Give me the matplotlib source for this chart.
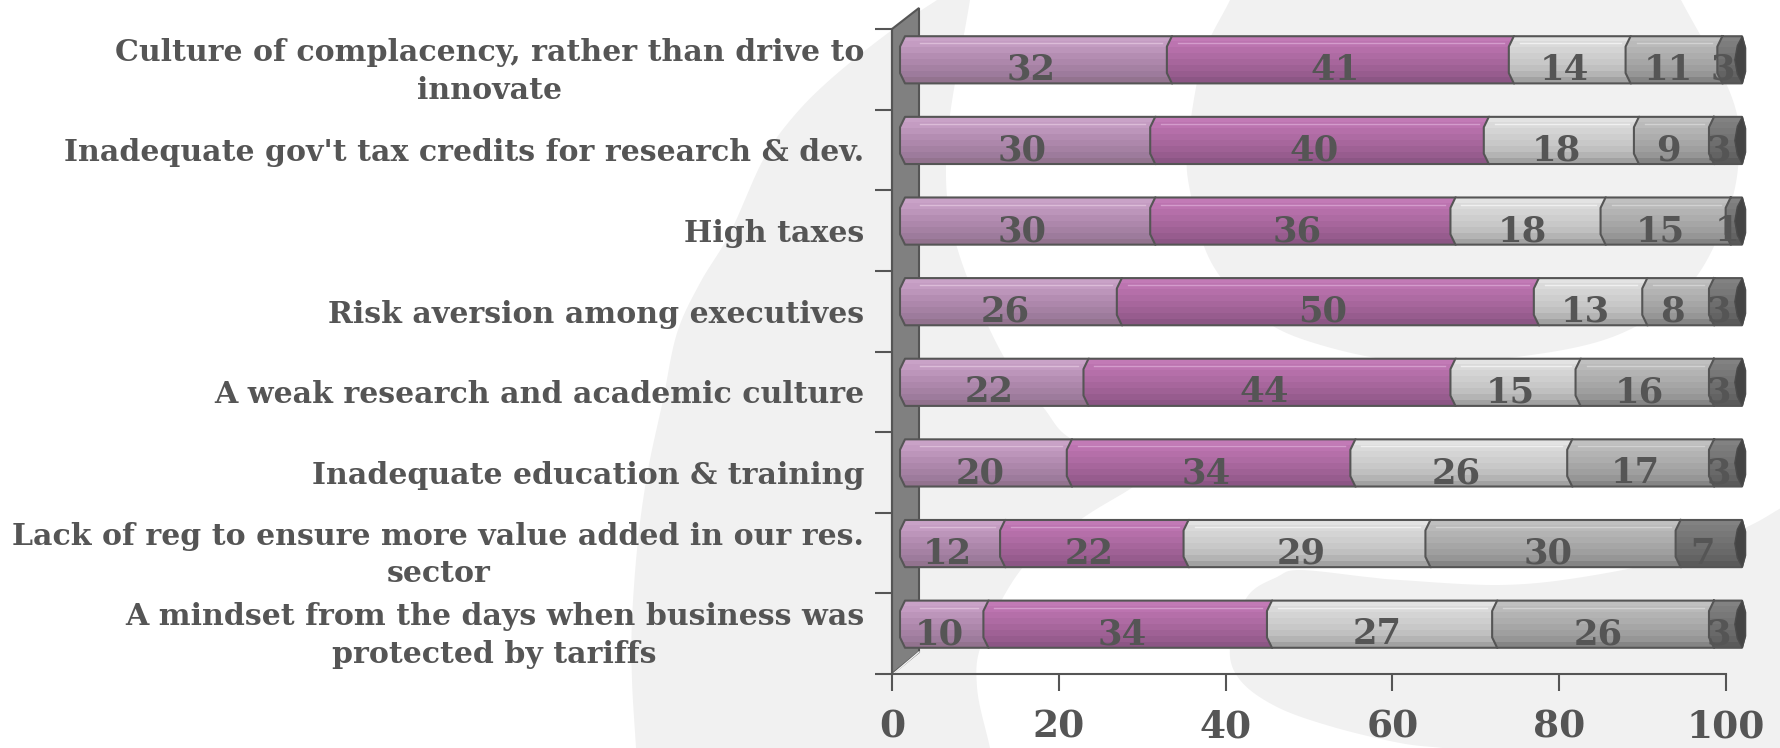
import numpy as np
import matplotlib
matplotlib.use("Agg")
import matplotlib.pyplot as plt
from matplotlib.patches import Polygon
from matplotlib.transforms import Affine2D

categories = ["Culture of complacency, rather than drive to\ninnovate",
              "Inadequate gov't tax credits for research & dev.",
              "High taxes",
              "Risk aversion among executives",
              "A weak research and academic culture",
              "Inadequate education & training",
              "Lack of reg to ensure more value added in our res.\nsector",
              "A mindset from the days when business was\nprotected by tariffs"]
series_1 = [32, 30, 30, 26, 22, 20, 12, 10]
series_2 = [41, 40, 36, 50, 44, 34, 22, 34]
series_3 = [14, 18, 18, 13, 15, 26, 29, 27]
series_4 = [11, 9, 15, 8, 16, 17, 30, 26]
series_5 = [3, 3, 1, 3, 3, 3, 7, 3]
x_ticks = [0, 20, 40, 60, 80, 100]

INK = "#555555"
W, H = 1781, 748
fig = plt.figure(figsize=(W / 100, H / 100), dpi=100, facecolor="white")
px = Affine2D().scale(1, -1).translate(0, H)


def smooth(points, n=14):
    p = np.array(points, float)
    q = np.vstack([2 * p[0] - p[1], p, 2 * p[-1] - p[-2]])
    out = []
    for i in range(1, len(q) - 2):
        for t in np.linspace(0, 1, n, endpoint=False):
            out.append(0.5 * (2 * q[i] + (q[i + 1] - q[i - 1]) * t
                              + (2 * q[i - 1] - 5 * q[i] + 4 * q[i + 1] - q[i + 2]) * t ** 2
                              + (3 * q[i] - q[i - 1] - 3 * q[i + 1] + q[i + 2]) * t ** 3))
    out.append(p[-1])
    return np.array(out)


band_left = [(937, 0), (892, 30), (833, 77), (793, 117), (763, 160), (730, 233), (700, 283), (677, 333), (663, 400),
             (648, 470), (638, 540), (632, 620), (632, 680), (636, 748)]
band_right = [(990, 748), (977, 687), (983, 640), (1023, 567), (1080, 520), (1133, 487), (1150, 470),
              (1073, 440), (1043, 407), (1000, 350), (955, 240), (947, 143), (970, 0)]
blob_top = [(1230, 0), (1203, 57), (1188, 143), (1190, 191), (1211, 262), (1257, 315), (1314, 343), (1410, 362),
            (1524, 356), (1620, 334), (1689, 286), (1727, 215), (1739, 153), (1731, 95), (1681, 0)]
blob_low_a = [(1781, 508), (1747, 527), (1677, 557), (1583, 577), (1500, 585), (1400, 580), (1367, 577), (1300, 570),
              (1277, 577), (1247, 597), (1230, 647), (1240, 680), (1277, 707), (1333, 727), (1400, 743), (1443, 748)]
shapes = [np.vstack([smooth(band_left), smooth(band_right)]),
          smooth(blob_top),
          np.vstack([smooth(blob_low_a), [(1781, 748)]])]
for s in shapes:
    fig.add_artist(Polygon(s, closed=True, facecolor="#f1f1f1", edgecolor="none", transform=px, zorder=-5))

# main axes: frame, ticks, wall
L, R, T, B = 892, 1726, 29, 674
ax = fig.add_axes([L / W, 1 - B / H, (R - L) / W, (B - T) / H], facecolor="none")
ax.set_xlim(0, 100)
ax.set_ylim(7.5, -0.5)
for side in ("top", "right"):
    ax.spines[side].set_visible(False)
for side in ("left", "bottom"):
    ax.spines[side].set_color(INK)
    ax.spines[side].set_linewidth(1.5)
ax.set_xticks(x_ticks)
ax.set_xticklabels([str(v) for v in x_ticks], fontsize=27, family="DejaVu Serif", weight="bold", color=INK)
ax.tick_params(axis="x", length=12.2, width=1.5, color=INK, pad=13)
ax.set_yticks(np.arange(-0.5, 8, 1))
ax.set_yticklabels([])
ax.tick_params(axis="y", which="major", length=12.2, width=1.5, color=INK)
ax.set_yticks(np.arange(len(categories)), minor=True)
ax.set_yticklabels(categories, minor=True, fontsize=21.6, family="DejaVu Serif", weight="bold", color=INK,
                   multialignment="center", linespacing=1.38)
ax.tick_params(axis="y", which="minor", length=0, pad=20)
for lab in ax.get_yticklabels(minor=True):
    if "\n" in lab.get_text():
        lab.set_transform(lab.get_transform() + Affine2D().translate(0, 5.5))

wall = Polygon([(L, T), (919, 8), (919, 652), (L, B)], closed=True, facecolor="#808080",
               edgecolor=INK, linewidth=1.5, transform=px, zorder=1, clip_on=False)
ax.add_patch(wall)
ax.plot([L + 1, 919], [B, 652], color="#f4f4f4", lw=1, transform=px, zorder=1.5, clip_on=False)

# overlay axes: stacked bars share the x scale of the main axes, shifted by the 3-D depth
END = 101.35  # far end of the 3-D cylinder, in axis units
bx0, by0, by1 = 900, 19.5, 664.5
bx1 = bx0 + (R - L) / 100 * END
a2 = fig.add_axes([bx0 / W, 1 - by1 / H, (bx1 - bx0) / W, (by1 - by0) / H], facecolor="none")
a2.set_axis_off()

palette = [["#c9a2c7", "#c49cc2", "#bc95ba", "#b48db2", "#ad87ab", "#a581a3", "#9d7b9c", "#93738f"],
           ["#c27ab6", "#bc74b0", "#b56fa9", "#ae6ba3", "#a7669c", "#9f6195", "#975c8e", "#8c5685"],
           ["#e3e3e3", "#dadada", "#d4d4d4", "#cecece", "#c8c8c8", "#c0c0c0", "#b4b4b4", "#a2a2a2"],
           ["#c0c0c0", "#bababa", "#b3b3b3", "#adadad", "#a6a6a6", "#9f9f9f", "#969696", "#858585"],
           ["#828282", "#7d7d7d", "#787878", "#737373", "#6e6e6e", "#696969", "#636363", "#5a5a5a"]]
shine = ["#dcbcd8", "#d49ccc", "#f0f0f0", "#d2d2d2", None]
all_series = [series_1, series_2, series_3, series_4, series_5]
bar_h = 0.585
ch = 0.6    # chamfer, in axis units
rows = np.arange(len(categories))
data = np.array(all_series, float)
left = np.zeros(len(categories))
z = 2
for k in range(data.shape[0]):
    rgb = np.array([matplotlib.colors.to_rgb(c) for c in palette[k]])[:, None, :]
    rects = a2.barh(rows, data[k], left=left, height=bar_h, color=palette[k][3], linewidth=0, zorder=z)
    for r, y in enumerate(rows):
        x0, x1 = left[r], left[r] + data[k][r]
        top, bot = y - bar_h / 2, y + bar_h / 2
        last = k == data.shape[0] - 1
        xe = END if last else x1 + ch
        outer = [(x0 + ch, top), (x0, top + .22 * bar_h), (x0, bot - .22 * bar_h), (x0 + ch, bot)]
        tail = [(xe - .4, bot), (xe, bot - .25 * bar_h), (xe, top + .25 * bar_h), (xe - .4, top)] if last \
            else [(xe, bot), (xe, top)]
        poly = Polygon(outer + tail, closed=True, transform=a2.transData)
        rects[r].set_clip_path(poly)
        im = a2.imshow(rgb, extent=[x0, xe, bot, top], aspect="auto", interpolation="nearest", zorder=z + .1)
        im.set_clip_path(poly)
        pts = np.array(outer + (tail if last else []) + ([] if last else [(xe, bot)]))
        if last:
            pts = np.vstack([pts, outer[0]])
        else:
            pts = np.vstack([[(xe, top)], pts])
        a2.plot(pts[:, 0], pts[:, 1], color=INK, lw=1.5, zorder=z + .3, solid_joinstyle="round", clip_on=False)
        if shine[k]:
            sx = max(x0 + 1.6 * ch, 2.4) if k == 0 else x0 + 2.2 * ch
            if x1 - ch > sx:
                a2.plot([sx, x1 - ch], [top + .15 * bar_h] * 2, color=shine[k], lw=1, zorder=z + .2)
        a2.annotate(str(int(data[k][r])), ((x0 + min(x1, 100)) / 2, y), xytext=(-2, -14.5),
                    textcoords="offset points", ha="center", va="baseline", fontsize=25.5,
                    family="DejaVu Serif", weight="bold", color=INK, zorder=20, annotation_clip=False)
    left = left + data[k]
    z += 1

# dark end cap over the last segment
for y in rows:
    top, bot = y - bar_h / 2, y + bar_h / 2
    c = Polygon([(END - .35, top), (END - .95, top + .2 * bar_h), (END - 1.25, y), (END - .95, bot - .2 * bar_h),
                 (END - .35, bot), (END, bot - .25 * bar_h), (END, top + .25 * bar_h)],
                closed=True, facecolor="#444444", edgecolor="#4a4a4a", lw=1, zorder=30, clip_on=False)
    a2.add_patch(c)

a2.set_xlim(0, END)
a2.set_ylim(7.5, -0.5)

fig.savefig("out.png", dpi=100)
